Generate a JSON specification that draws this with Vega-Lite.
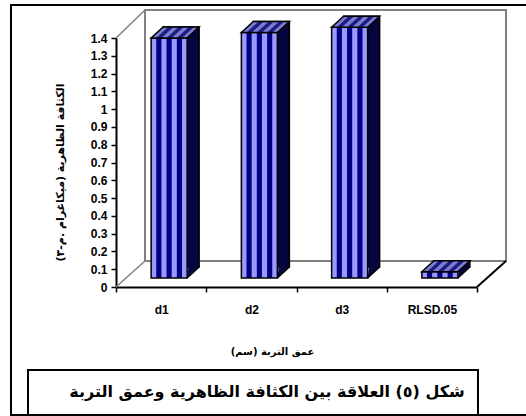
{
  "$schema": "https://vega.github.io/schema/vega-lite/v6.json",
  "width": 361,
  "height": 249,
  "autosize": {"type": "none"},
  "padding": {"left": 116, "top": 38, "right": 49, "bottom": 129},
  "background": "white",
  "config": {"view": {"stroke": null}},
  "data": {"values": [
    {"depth": "d1", "density": 1.35},
    {"depth": "d2", "density": 1.38},
    {"depth": "d3", "density": 1.41},
    {"depth": "RLSD.05", "density": 0.035}
  ]},
  "encoding": {
    "x": {"field": "depth", "type": "nominal", "sort": ["d1", "d2", "d3", "RLSD.05"],
      "scale": {"paddingInner": 0, "paddingOuter": 0},
      "title": "عمق التربة (سم)",
      "axis": {"tickBand": "extent", "labelAngle": 0, "tickSize": 5, "tickWidth": 1.5, "tickColor": "black",
        "domainColor": "black", "domainWidth": 2, "labelFont": "Liberation Sans", "labelFontWeight": "bold",
        "labelFontSize": 12, "labelColor": "black", "labelPadding": 12, "grid": false,
        "titleFont": "DejaVu Sans", "titleFontSize": 10, "titleFontWeight": "bold", "titleColor": "black",
        "titleX": 156, "titleY": 64, "titleBaseline": "middle", "titleAlign": "center", "titleAnchor": null}},
    "y": {"field": "density", "type": "quantitative",
      "scale": {"domain": [0, 1.4], "nice": false, "zero": true},
      "title": "الكثافة الظاهرية (ميكاغرام .م-٣)",
      "axis": {"values": [0, 0.1, 0.2, 0.3, 0.4, 0.5, 0.6, 0.7, 0.8, 0.9, 1, 1.1, 1.2, 1.3, 1.4],
        "format": ".1~f", "tickSize": 5, "tickWidth": 1.5, "tickColor": "black", "domainColor": "black",
        "domainWidth": 2, "labelFont": "Liberation Sans", "labelFontWeight": "bold", "labelFontSize": 12,
        "labelColor": "black", "labelPadding": 4, "grid": false,
        "titleFont": "DejaVu Sans", "titleFontSize": 11, "titleFontWeight": "bold", "titleColor": "black",
        "titleX": -56, "titleY": 134, "titleAngle": 270, "titleBaseline": "middle", "titleAlign": "center", "titleAnchor": null}}
  },
  "layer": [
    {"data": {"values": [{}]},
     "mark": {"type": "rect", "fill": null, "stroke": "black", "strokeWidth": 2},
     "encoding": {"x": {"value": -105}, "x2": {"value": 420}, "y": {"value": -33}, "y2": {"value": 377}}},
    {"data": {"values": [{}]},
     "mark": {"type": "rect", "fill": null, "stroke": "#808080", "strokeWidth": 2},
     "encoding": {"x": {"value": 29}, "x2": {"value": 390}, "y": {"value": -28}, "y2": {"value": 223}}},
    {"data": {"values": [{}]},
     "mark": {"type": "rule", "stroke": "#808080", "strokeWidth": 1.5},
     "encoding": {"x": {"value": 0}, "x2": {"value": 29}, "y": {"value": 0}, "y2": {"value": -28}}},
    {"data": {"values": [{}]},
     "mark": {"type": "rule", "stroke": "#808080", "strokeWidth": 1.5},
     "encoding": {"x": {"value": 0}, "x2": {"value": 29}, "y": {"value": 249}, "y2": {"value": 223}}},
    {"data": {"values": [{}]},
     "mark": {"type": "rule", "stroke": "black", "strokeWidth": 2},
     "encoding": {"x": {"value": 361}, "x2": {"value": 390}, "y": {"value": 249}, "y2": {"value": 223}}},
    {"data": {"values": [{}]},
     "mark": {"type": "rect", "fill": "white", "stroke": "black", "strokeWidth": 2},
     "encoding": {"x": {"value": -88}, "x2": {"value": 362}, "y": {"value": 332}, "y2": {"value": 377}}},
    {"data": {"values": [{"caption": "شكل (٥) العلاقة بين الكثافة الظاهرية وعمق التربة"}]},
     "mark": {"type": "text", "font": "DejaVu Sans", "fontWeight": "bold", "fontSize": 16, "align": "center", "baseline": "middle", "color": "black"},
     "encoding": {"x": {"value": 151}, "y": {"value": 354}, "text": {"field": "caption"}}},

    {"mark": {"type": "bar", "width": 36, "xOffset": 20, "yOffset": -20, "y2Offset": -20, "fill": "#06063f", "stroke": "black", "strokeWidth": 1.5}},
    {"mark": {"type": "point", "shape": "M18,0L30,-11L30,-12.5L19.5,-12.5Z", "size": 4, "xOffset": 8, "yOffset": -9, "filled": true, "fill": "#06063f", "strokeWidth": 0, "opacity": 1},
     "encoding": {"y": {"datum": 0}}},
    {"mark": {"type": "point", "shape": "M18,0L30,-11", "size": 4, "xOffset": 8, "yOffset": -9, "filled": false, "stroke": "black", "strokeWidth": 1.5, "opacity": 1},
     "encoding": {"y": {"datum": 0}}},
    {"mark": {"type": "bar", "width": 36, "xOffset": 8, "yOffset": -9, "y2Offset": -9, "fill": "#000080", "strokeWidth": 0}},
    {"mark": {"type": "bar", "width": 5.14, "xOffset": -7.43, "yOffset": -9, "y2Offset": -9, "fill": "#9999ff", "strokeWidth": 0}},
    {"mark": {"type": "bar", "width": 5.14, "xOffset": 2.86, "yOffset": -9, "y2Offset": -9, "fill": "#9999ff", "strokeWidth": 0}},
    {"mark": {"type": "bar", "width": 5.14, "xOffset": 13.14, "yOffset": -9, "y2Offset": -9, "fill": "#9999ff", "strokeWidth": 0}},
    {"mark": {"type": "bar", "width": 5.14, "xOffset": 23.43, "yOffset": -9, "y2Offset": -9, "fill": "#9999ff", "strokeWidth": 0}},
    {"mark": {"type": "bar", "width": 36, "xOffset": 8, "yOffset": -9, "y2Offset": -9, "fill": "white", "fillOpacity": 0, "stroke": "black", "strokeWidth": 1.5}},
    {"mark": {"type": "point", "shape": "M-18,0L18,0L30,-11L-6,-11Z", "size": 4, "xOffset": 8, "yOffset": -9, "filled": true, "fill": "#1c1c84", "strokeWidth": 0, "opacity": 1}},
    {"mark": {"type": "point", "shape": "M-18,0L-12.86,0L-0.86,-11L-6,-11Z M-7.71,0L-2.57,0L9.43,-11L4.29,-11Z M2.57,0L7.71,0L19.71,-11L14.57,-11Z M12.86,0L18,0L30,-11L24.86,-11Z", "size": 4, "xOffset": 8, "yOffset": -9, "filled": true, "fill": "#7d7dd0", "strokeWidth": 0, "opacity": 1}},
    {"mark": {"type": "point", "shape": "M-18,0L18,0L30,-11L-6,-11Z", "size": 4, "xOffset": 8, "yOffset": -9, "filled": false, "stroke": "black", "strokeWidth": 1.5, "opacity": 1}}
  ]
}
